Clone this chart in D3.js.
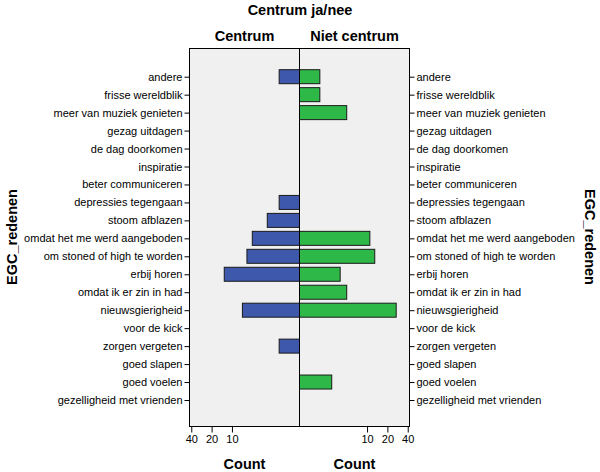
<!DOCTYPE html>
<html><head><meta charset="utf-8">
<script src="https://cdn.jsdelivr.net/npm/d3@7"></script>
<style>
body{margin:0;background:#fff;}
svg text{font-family:"Liberation Sans",Arial,sans-serif;fill:#000;}
</style></head>
<body><svg id="c" width="600" height="472"></svg>
<script>
const categories = ["andere","frisse wereldblik","meer van muziek genieten","gezag uitdagen","de dag doorkomen","inspiratie","beter communiceren","depressies tegengaan","stoom afblazen","omdat het me werd aangeboden","om stoned of high te worden","erbij horen","omdat ik er zin in had","nieuwsgierigheid","voor de kick","zorgen vergeten","goed slapen","goed voelen","gezelligheid met vrienden"];
const centrum =     [2,0,0,0,0,0,0,2,3,5,6,13,0,7,0,2,0,0,0];
const nietCentrum = [2,2,5,0,0,0,0,0,0,11,13,4,5,27,0,0,0,3,0];
const tickValues = [10,20,40];
const panelNames = ["Centrum","Niet centrum"];
const title = "Centrum ja/nee";
const yTitle = "EGC_redenen";
const xTitle = "Count";

const svg = d3.select("#c");
const L = 189.5, C = 299.5, R = 409.5, T = 48.5, B = 426.5;
const maxV = 42.5;
const xL = d3.scaleLog().domain([1, maxV]).range([C, L]);
const xR = d3.scaleLog().domain([1, maxV]).range([C, R]);
const y = d3.scalePoint().domain(categories).range([76.7, 400]);
const bh = 14;

svg.append("rect").attr("x",L).attr("y",T).attr("width",R-L).attr("height",B-T).attr("fill","#f0f0f0");

const blue = "#3e58ac", green = "#2eb848";
svg.append("g").selectAll("rect").data(categories.map((c,i)=>({c,v:centrum[i]})).filter(d=>d.v>1))
  .join("rect").attr("x",d=>xL(d.v)).attr("y",d=>y(d.c)-bh/2).attr("width",d=>C-xL(d.v)).attr("height",bh)
  .attr("fill",blue).attr("stroke","#1a1a1a").attr("stroke-width",1);
svg.append("g").selectAll("rect").data(categories.map((c,i)=>({c,v:nietCentrum[i]})).filter(d=>d.v>1))
  .join("rect").attr("x",C).attr("y",d=>y(d.c)-bh/2).attr("width",d=>xR(d.v)-C).attr("height",bh)
  .attr("fill",green).attr("stroke","#1a1a1a").attr("stroke-width",1);

svg.append("rect").attr("x",L).attr("y",T).attr("width",R-L).attr("height",B-T).attr("fill","none").attr("stroke","#000").attr("stroke-width",1);
svg.append("line").attr("x1",C).attr("x2",C).attr("y1",T).attr("y2",B).attr("stroke","#000");

function styleAxis(g){
  g.select(".domain").remove();
  g.selectAll(".tick line").attr("stroke","#000");
  g.selectAll(".tick text").style("font-size","11px").attr("fill","#000");
}
svg.append("g").attr("transform",`translate(${L},0)`).call(d3.axisLeft(y).tickSize(5).tickPadding(2)).call(styleAxis);
svg.append("g").attr("transform",`translate(${R},0)`).call(d3.axisRight(y).tickSize(5).tickPadding(2)).call(styleAxis);
svg.append("g").attr("transform",`translate(0,${B})`).call(d3.axisBottom(xL).tickValues(tickValues).tickFormat(d3.format("d")).tickSize(6).tickPadding(3)).call(styleAxis);
svg.append("g").attr("transform",`translate(0,${B})`).call(d3.axisBottom(xR).tickValues(tickValues).tickFormat(d3.format("d")).tickSize(6).tickPadding(3)).call(styleAxis);

const bold = s=>s.style("font-weight","bold").style("font-size","14.5px").attr("text-anchor","middle");
svg.append("text").attr("x",300).attr("y",15).text(title).call(bold);
svg.append("text").attr("x",(L+C)/2).attr("y",41).text(panelNames[0]).call(bold);
svg.append("text").attr("x",(C+R)/2).attr("y",41).text(panelNames[1]).call(bold);
svg.append("text").attr("x",(L+C)/2).attr("y",469).text(xTitle).call(bold);
svg.append("text").attr("x",(C+R)/2).attr("y",469).text(xTitle).call(bold);
svg.append("text").attr("transform","translate(17,237) rotate(-90)").text(yTitle).call(bold);
svg.append("text").attr("transform","translate(585,237) rotate(90)").text(yTitle).call(bold);
</script></body></html>
